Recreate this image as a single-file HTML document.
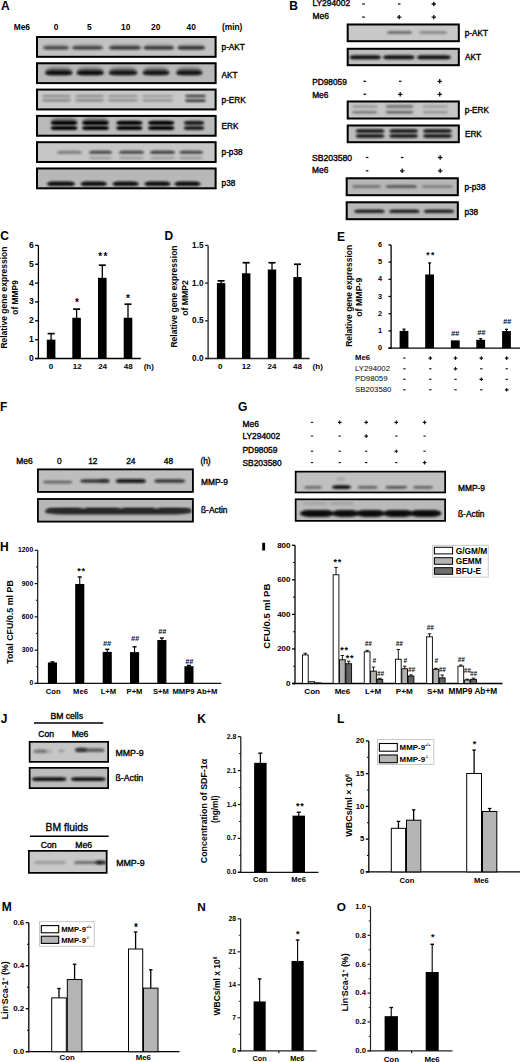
<!DOCTYPE html><html><head><meta charset="utf-8"><style>html,body{margin:0;padding:0;background:#fff;}svg{display:block;}</style></head><body>
<svg width="520" height="1062" viewBox="0 0 520 1062" font-family='"Liberation Sans", sans-serif'>
<defs>
<filter id="bl0" x="-50%" y="-100%" width="200%" height="300%"><feGaussianBlur stdDeviation="0.5"/></filter>
<filter id="bl1" x="-50%" y="-100%" width="200%" height="300%"><feGaussianBlur stdDeviation="0.9"/></filter>
<filter id="bl2" x="-50%" y="-100%" width="200%" height="300%"><feGaussianBlur stdDeviation="1.3"/></filter>
<filter id="bl3" x="-50%" y="-100%" width="200%" height="300%"><feGaussianBlur stdDeviation="1.8"/></filter>
<filter id="bl4" x="-50%" y="-100%" width="200%" height="300%"><feGaussianBlur stdDeviation="2.5"/></filter>
</defs>
<rect width="520" height="1062" fill="#fff"/>
<text x="1.0" y="10.0" font-size="12" font-weight="bold" text-anchor="start" fill="#000">A</text>
<text x="13.7" y="30" font-size="8.4" font-weight="bold" text-anchor="start" fill="#000">Me6</text>
<text x="56" y="30" font-size="8.4" font-weight="bold" text-anchor="middle" fill="#000">0</text>
<text x="89.3" y="30" font-size="8.4" font-weight="bold" text-anchor="middle" fill="#000">5</text>
<text x="125.7" y="30" font-size="8.4" font-weight="bold" text-anchor="middle" fill="#000">10</text>
<text x="155.7" y="30" font-size="8.4" font-weight="bold" text-anchor="middle" fill="#000">20</text>
<text x="191.2" y="30" font-size="8.4" font-weight="bold" text-anchor="middle" fill="#000">40</text>
<text x="221.9" y="30" font-size="8.4" font-weight="bold" text-anchor="start" fill="#000">(min)</text>
<clipPath id="c18"><rect x="36" y="36" width="180.6" height="21.799999999999997"/></clipPath>
<g clip-path="url(#c18)">
<rect x="36.00" y="36.00" width="180.60" height="21.80" fill="#c2c2c2"/>
<rect x="43.65" y="44.22" width="24.70" height="4.16" rx="5.20" ry="2.08" fill="#1a1a1a" fill-opacity="0.175" filter="url(#bl3)"/>
<rect x="72.78" y="44.22" width="29.45" height="4.16" rx="5.20" ry="2.08" fill="#1a1a1a" fill-opacity="0.1875" filter="url(#bl3)"/>
<rect x="109.80" y="44.22" width="30.40" height="4.16" rx="5.20" ry="2.08" fill="#1a1a1a" fill-opacity="0.2" filter="url(#bl3)"/>
<rect x="144.26" y="44.22" width="28.97" height="4.16" rx="5.20" ry="2.08" fill="#1a1a1a" fill-opacity="0.2125" filter="url(#bl3)"/>
<rect x="178.19" y="44.22" width="26.12" height="4.16" rx="5.20" ry="2.08" fill="#1a1a1a" fill-opacity="0.225" filter="url(#bl3)"/>
<rect x="43.00" y="46.20" width="26.00" height="3.20" rx="4.00" ry="1.60" fill="#1a1a1a" fill-opacity="0.7" filter="url(#bl1)"/>
<rect x="72.00" y="46.20" width="31.00" height="3.20" rx="4.00" ry="1.60" fill="#1a1a1a" fill-opacity="0.75" filter="url(#bl1)"/>
<rect x="109.00" y="46.20" width="32.00" height="3.20" rx="4.00" ry="1.60" fill="#1a1a1a" fill-opacity="0.8" filter="url(#bl1)"/>
<rect x="143.50" y="46.20" width="30.50" height="3.20" rx="4.00" ry="1.60" fill="#1a1a1a" fill-opacity="0.85" filter="url(#bl1)"/>
<rect x="177.50" y="46.20" width="27.50" height="3.20" rx="4.00" ry="1.60" fill="#1a1a1a" fill-opacity="0.9" filter="url(#bl1)"/>
</g>
<rect x="37.00" y="37.00" width="178.60" height="19.80" fill="none" stroke="#000" stroke-width="2"/>
<text x="221.6" y="50.4" font-size="8.2" font-weight="normal" text-anchor="start" fill="#000" stroke="#000" stroke-width="0.35">p-AKT</text>
<clipPath id="c34"><rect x="36" y="62.3" width="180.6" height="21.799999999999997"/></clipPath>
<g clip-path="url(#c34)">
<rect x="36.00" y="62.30" width="180.60" height="21.80" fill="#b8b8b8"/>
<rect x="45.69" y="66.95" width="26.12" height="6.90" rx="8.62" ry="3.45" fill="#0a0a0a" fill-opacity="0.35" filter="url(#bl3)"/>
<rect x="77.19" y="66.95" width="26.12" height="6.90" rx="8.62" ry="3.45" fill="#0a0a0a" fill-opacity="0.35" filter="url(#bl3)"/>
<rect x="109.42" y="66.95" width="27.36" height="6.90" rx="8.62" ry="3.45" fill="#0a0a0a" fill-opacity="0.33249999999999996" filter="url(#bl3)"/>
<rect x="143.18" y="66.95" width="25.65" height="6.90" rx="8.62" ry="3.45" fill="#0a0a0a" fill-opacity="0.33249999999999996" filter="url(#bl3)"/>
<rect x="176.66" y="66.95" width="25.17" height="6.90" rx="8.62" ry="3.45" fill="#0a0a0a" fill-opacity="0.33249999999999996" filter="url(#bl3)"/>
<rect x="45.00" y="70.60" width="27.50" height="4.60" rx="5.75" ry="2.30" fill="#0a0a0a" fill-opacity="1" filter="url(#bl1)"/>
<rect x="76.50" y="70.60" width="27.50" height="4.60" rx="5.75" ry="2.30" fill="#0a0a0a" fill-opacity="1" filter="url(#bl1)"/>
<rect x="108.70" y="70.60" width="28.80" height="4.60" rx="5.75" ry="2.30" fill="#0a0a0a" fill-opacity="0.95" filter="url(#bl1)"/>
<rect x="142.50" y="70.60" width="27.00" height="4.60" rx="5.75" ry="2.30" fill="#0a0a0a" fill-opacity="0.95" filter="url(#bl1)"/>
<rect x="176.00" y="70.60" width="26.50" height="4.60" rx="5.75" ry="2.30" fill="#0a0a0a" fill-opacity="0.95" filter="url(#bl1)"/>
</g>
<rect x="37.00" y="63.30" width="178.60" height="19.80" fill="none" stroke="#000" stroke-width="2"/>
<text x="221.6" y="77.7" font-size="8.2" font-weight="normal" text-anchor="start" fill="#000" stroke="#000" stroke-width="0.35">AKT</text>
<clipPath id="c50"><rect x="36" y="88.6" width="180.6" height="21.799999999999997"/></clipPath>
<g clip-path="url(#c50)">
<rect x="36.00" y="88.60" width="180.60" height="21.80" fill="#c8c8c8"/>
<rect x="42.00" y="94.90" width="29.00" height="2.20" rx="3.62" ry="1.10" fill="#333" fill-opacity="0.45" filter="url(#bl1)"/>
<rect x="75.00" y="94.90" width="29.00" height="2.20" rx="3.62" ry="1.10" fill="#333" fill-opacity="0.45" filter="url(#bl1)"/>
<rect x="108.00" y="94.90" width="30.00" height="2.20" rx="3.75" ry="1.10" fill="#333" fill-opacity="0.4" filter="url(#bl1)"/>
<rect x="142.00" y="94.90" width="31.00" height="2.20" rx="3.88" ry="1.10" fill="#333" fill-opacity="0.35" filter="url(#bl1)"/>
<rect x="42.00" y="99.20" width="29.00" height="2.20" rx="3.62" ry="1.10" fill="#333" fill-opacity="0.5" filter="url(#bl1)"/>
<rect x="75.00" y="99.20" width="29.00" height="2.20" rx="3.62" ry="1.10" fill="#333" fill-opacity="0.5" filter="url(#bl1)"/>
<rect x="108.00" y="99.20" width="30.00" height="2.20" rx="3.75" ry="1.10" fill="#333" fill-opacity="0.45" filter="url(#bl1)"/>
<rect x="142.00" y="99.20" width="31.00" height="2.20" rx="3.88" ry="1.10" fill="#333" fill-opacity="0.4" filter="url(#bl1)"/>
<rect x="185.00" y="94.90" width="21.00" height="2.20" rx="2.75" ry="1.10" fill="#111" fill-opacity="0.9" filter="url(#bl1)"/>
<rect x="185.00" y="99.40" width="21.00" height="2.40" rx="3.00" ry="1.20" fill="#111" fill-opacity="0.95" filter="url(#bl1)"/>
</g>
<rect x="37.00" y="89.60" width="178.60" height="19.80" fill="none" stroke="#000" stroke-width="2"/>
<text x="221.6" y="102.8" font-size="8.2" font-weight="normal" text-anchor="start" fill="#000" stroke="#000" stroke-width="0.35">p-ERK</text>
<clipPath id="c66"><rect x="36" y="114.9" width="180.6" height="21.80000000000001"/></clipPath>
<g clip-path="url(#c66)">
<rect x="36.00" y="114.90" width="180.60" height="21.80" fill="#bababa"/>
<rect x="51.27" y="116.82" width="25.55" height="6.16" rx="7.70" ry="3.08" fill="#050505" fill-opacity="0.3" filter="url(#bl3)"/>
<rect x="82.67" y="116.82" width="25.65" height="6.16" rx="7.70" ry="3.08" fill="#050505" fill-opacity="0.3" filter="url(#bl3)"/>
<rect x="50.60" y="120.70" width="26.90" height="4.40" rx="5.50" ry="2.20" fill="#050505" fill-opacity="1" filter="url(#bl1)"/>
<rect x="82.00" y="120.70" width="27.00" height="4.40" rx="5.50" ry="2.20" fill="#050505" fill-opacity="1" filter="url(#bl1)"/>
<rect x="116.20" y="120.70" width="26.30" height="4.40" rx="5.50" ry="2.20" fill="#050505" fill-opacity="1" filter="url(#bl1)"/>
<rect x="148.00" y="120.70" width="26.40" height="4.40" rx="5.50" ry="2.20" fill="#050505" fill-opacity="1" filter="url(#bl1)"/>
<rect x="183.70" y="120.70" width="20.70" height="4.40" rx="5.50" ry="2.20" fill="#050505" fill-opacity="0.85" filter="url(#bl1)"/>
<rect x="50.60" y="126.00" width="26.90" height="4.00" rx="5.00" ry="2.00" fill="#050505" fill-opacity="1" filter="url(#bl1)"/>
<rect x="82.00" y="126.00" width="27.00" height="4.00" rx="5.00" ry="2.00" fill="#050505" fill-opacity="1" filter="url(#bl1)"/>
<rect x="116.20" y="126.00" width="26.30" height="4.00" rx="5.00" ry="2.00" fill="#050505" fill-opacity="1" filter="url(#bl1)"/>
<rect x="148.00" y="126.00" width="26.40" height="4.00" rx="5.00" ry="2.00" fill="#050505" fill-opacity="1" filter="url(#bl1)"/>
<rect x="183.70" y="126.00" width="20.70" height="4.00" rx="5.00" ry="2.00" fill="#050505" fill-opacity="0.85" filter="url(#bl1)"/>
</g>
<rect x="37.00" y="115.90" width="178.60" height="19.80" fill="none" stroke="#000" stroke-width="2"/>
<text x="221.6" y="129.0" font-size="8.2" font-weight="normal" text-anchor="start" fill="#000" stroke="#000" stroke-width="0.35">ERK</text>
<clipPath id="c84"><rect x="36" y="141.2" width="180.6" height="21.80000000000001"/></clipPath>
<g clip-path="url(#c84)">
<rect x="36.00" y="141.20" width="180.60" height="21.80" fill="#c6c6c6"/>
<rect x="57.00" y="150.80" width="25.00" height="3.00" rx="3.75" ry="1.50" fill="#222" fill-opacity="0.45" filter="url(#bl1)"/>
<rect x="89.00" y="150.80" width="23.00" height="3.00" rx="3.75" ry="1.50" fill="#222" fill-opacity="0.8" filter="url(#bl1)"/>
<rect x="119.00" y="150.80" width="25.00" height="3.00" rx="3.75" ry="1.50" fill="#222" fill-opacity="0.8" filter="url(#bl1)"/>
<rect x="150.00" y="150.80" width="25.00" height="3.00" rx="3.75" ry="1.50" fill="#222" fill-opacity="0.85" filter="url(#bl1)"/>
<rect x="179.50" y="150.80" width="23.50" height="3.00" rx="3.75" ry="1.50" fill="#222" fill-opacity="0.8" filter="url(#bl1)"/>
<rect x="89.00" y="156.90" width="23.00" height="2.20" rx="2.88" ry="1.10" fill="#444" fill-opacity="0.35" filter="url(#bl1)"/>
<rect x="119.00" y="156.90" width="25.00" height="2.20" rx="3.12" ry="1.10" fill="#444" fill-opacity="0.35" filter="url(#bl1)"/>
<rect x="150.00" y="156.90" width="25.00" height="2.20" rx="3.12" ry="1.10" fill="#444" fill-opacity="0.35" filter="url(#bl1)"/>
<rect x="179.50" y="156.90" width="23.50" height="2.20" rx="2.94" ry="1.10" fill="#444" fill-opacity="0.4" filter="url(#bl1)"/>
</g>
<rect x="37.00" y="142.20" width="178.60" height="19.80" fill="none" stroke="#000" stroke-width="2"/>
<text x="221.6" y="154.6" font-size="8.2" font-weight="normal" text-anchor="start" fill="#000" stroke="#000" stroke-width="0.35">p-p38</text>
<clipPath id="c99"><rect x="36" y="167.5" width="180.6" height="21.80000000000001"/></clipPath>
<g clip-path="url(#c99)">
<rect x="36.00" y="167.50" width="180.60" height="21.80" fill="#b8b8b8"/>
<rect x="46.90" y="181.50" width="28.10" height="4.60" rx="5.75" ry="2.30" fill="#0a0a0a" fill-opacity="1" filter="url(#bl1)"/>
<rect x="80.60" y="181.50" width="26.30" height="4.60" rx="5.75" ry="2.30" fill="#0a0a0a" fill-opacity="1" filter="url(#bl1)"/>
<rect x="112.50" y="181.50" width="26.20" height="4.60" rx="5.75" ry="2.30" fill="#0a0a0a" fill-opacity="1" filter="url(#bl1)"/>
<rect x="144.40" y="181.50" width="26.20" height="4.60" rx="5.75" ry="2.30" fill="#0a0a0a" fill-opacity="1" filter="url(#bl1)"/>
<rect x="174.40" y="181.50" width="26.20" height="4.60" rx="5.75" ry="2.30" fill="#0a0a0a" fill-opacity="1" filter="url(#bl1)"/>
</g>
<rect x="37.00" y="168.50" width="178.60" height="19.80" fill="none" stroke="#000" stroke-width="2"/>
<text x="221.6" y="186.2" font-size="8.2" font-weight="normal" text-anchor="start" fill="#000" stroke="#000" stroke-width="0.35">p38</text>
<text x="289.3" y="10.2" font-size="12" font-weight="bold" text-anchor="start" fill="#000">B</text>
<text x="312.5" y="5.5" font-size="8.4" font-weight="normal" text-anchor="start" fill="#000" stroke="#000" stroke-width="0.35">LY294002</text>
<text x="312.5" y="18.75" font-size="8.4" font-weight="normal" text-anchor="start" fill="#000" stroke="#000" stroke-width="0.35">Me6</text>
<path d="M362.20 4.00H364.80" stroke="#111" stroke-width="1.3" fill="none"/>
<path d="M397.90 4.00H400.50" stroke="#111" stroke-width="1.3" fill="none"/>
<path d="M431.60 4.00H436.00M433.80 1.80V6.20" stroke="#111" stroke-width="1.3" fill="none"/>
<path d="M362.20 17.10H364.80" stroke="#111" stroke-width="1.3" fill="none"/>
<path d="M397.00 17.10H401.40M399.20 14.90V19.30" stroke="#111" stroke-width="1.3" fill="none"/>
<path d="M431.60 17.10H436.00M433.80 14.90V19.30" stroke="#111" stroke-width="1.3" fill="none"/>
<clipPath id="c119"><rect x="346.7" y="23.5" width="113.10000000000002" height="18.700000000000003"/></clipPath>
<g clip-path="url(#c119)">
<rect x="346.70" y="23.50" width="113.10" height="18.70" fill="#c8c8c8"/>
<rect x="387.00" y="31.20" width="25.00" height="2.60" rx="3.25" ry="1.30" fill="#333" fill-opacity="0.7" filter="url(#bl1)"/>
<rect x="419.00" y="31.30" width="28.00" height="2.40" rx="3.50" ry="1.20" fill="#444" fill-opacity="0.55" filter="url(#bl1)"/>
</g>
<rect x="347.70" y="24.50" width="111.10" height="16.70" fill="none" stroke="#000" stroke-width="2"/>
<clipPath id="c126"><rect x="346.7" y="47.8" width="113.10000000000002" height="18.400000000000006"/></clipPath>
<g clip-path="url(#c126)">
<rect x="346.70" y="47.80" width="113.10" height="18.40" fill="#bdbdbd"/>
<rect x="349.60" y="55.30" width="31.30" height="4.00" rx="5.00" ry="2.00" fill="#111" fill-opacity="1" filter="url(#bl1)"/>
<rect x="383.30" y="55.30" width="31.20" height="4.00" rx="5.00" ry="2.00" fill="#111" fill-opacity="1" filter="url(#bl1)"/>
<rect x="417.00" y="55.30" width="33.60" height="4.00" rx="5.00" ry="2.00" fill="#111" fill-opacity="1" filter="url(#bl1)"/>
</g>
<rect x="347.70" y="48.80" width="111.10" height="16.40" fill="none" stroke="#000" stroke-width="2"/>
<text x="464.8" y="35.8" font-size="8.2" font-weight="normal" text-anchor="start" fill="#000" stroke="#000" stroke-width="0.35">p-AKT</text>
<text x="465" y="60.0" font-size="8.2" font-weight="normal" text-anchor="start" fill="#000" stroke="#000" stroke-width="0.35">AKT</text>
<text x="312.2" y="84.8" font-size="8.3" font-weight="normal" text-anchor="start" fill="#000" stroke="#000" stroke-width="0.35">PD98059</text>
<text x="312.2" y="97.5" font-size="8.3" font-weight="normal" text-anchor="start" fill="#000" stroke="#000" stroke-width="0.35">Me6</text>
<path d="M363.50 81.30H366.10" stroke="#111" stroke-width="1.3" fill="none"/>
<path d="M398.90 81.30H401.50" stroke="#111" stroke-width="1.3" fill="none"/>
<path d="M437.50 81.30H441.90M439.70 79.10V83.50" stroke="#111" stroke-width="1.3" fill="none"/>
<path d="M363.50 94.30H366.10" stroke="#111" stroke-width="1.3" fill="none"/>
<path d="M398.00 94.30H402.40M400.20 92.10V96.50" stroke="#111" stroke-width="1.3" fill="none"/>
<path d="M437.50 94.30H441.90M439.70 92.10V96.50" stroke="#111" stroke-width="1.3" fill="none"/>
<clipPath id="c144"><rect x="346.7" y="100.5" width="113.10000000000002" height="19.0"/></clipPath>
<g clip-path="url(#c144)">
<rect x="346.70" y="100.50" width="113.10" height="19.00" fill="#c6c6c6"/>
<rect x="352.00" y="105.20" width="25.30" height="2.60" rx="3.25" ry="1.30" fill="#333" fill-opacity="0.35" filter="url(#bl1)"/>
<rect x="385.70" y="105.20" width="27.60" height="2.60" rx="3.45" ry="1.30" fill="#333" fill-opacity="0.65" filter="url(#bl1)"/>
<rect x="423.00" y="105.20" width="25.00" height="2.60" rx="3.25" ry="1.30" fill="#333" fill-opacity="0.28" filter="url(#bl1)"/>
<rect x="352.00" y="111.00" width="25.30" height="2.60" rx="3.25" ry="1.30" fill="#333" fill-opacity="0.55" filter="url(#bl1)"/>
<rect x="385.70" y="111.00" width="27.60" height="2.60" rx="3.45" ry="1.30" fill="#333" fill-opacity="0.7" filter="url(#bl1)"/>
<rect x="423.00" y="111.00" width="25.00" height="2.60" rx="3.25" ry="1.30" fill="#333" fill-opacity="0.35" filter="url(#bl1)"/>
</g>
<rect x="347.70" y="101.50" width="111.10" height="17.00" fill="none" stroke="#000" stroke-width="2"/>
<clipPath id="c155"><rect x="346.7" y="124.5" width="113.10000000000002" height="18.69999999999999"/></clipPath>
<g clip-path="url(#c155)">
<rect x="346.70" y="124.50" width="113.10" height="18.70" fill="#bdbdbd"/>
<rect x="355.60" y="129.20" width="28.90" height="3.60" rx="4.50" ry="1.80" fill="#0a0a0a" fill-opacity="1" filter="url(#bl1)"/>
<rect x="389.30" y="129.20" width="28.70" height="3.60" rx="4.50" ry="1.80" fill="#0a0a0a" fill-opacity="1" filter="url(#bl1)"/>
<rect x="423.00" y="129.20" width="28.80" height="3.60" rx="4.50" ry="1.80" fill="#0a0a0a" fill-opacity="1" filter="url(#bl1)"/>
<rect x="355.60" y="134.30" width="28.90" height="3.40" rx="4.25" ry="1.70" fill="#0a0a0a" fill-opacity="1" filter="url(#bl1)"/>
<rect x="389.30" y="134.30" width="28.70" height="3.40" rx="4.25" ry="1.70" fill="#0a0a0a" fill-opacity="1" filter="url(#bl1)"/>
<rect x="423.00" y="134.30" width="28.80" height="3.40" rx="4.25" ry="1.70" fill="#0a0a0a" fill-opacity="1" filter="url(#bl1)"/>
</g>
<rect x="347.70" y="125.50" width="111.10" height="16.70" fill="none" stroke="#000" stroke-width="2"/>
<text x="464.8" y="112.9" font-size="8.2" font-weight="normal" text-anchor="start" fill="#000" stroke="#000" stroke-width="0.35">p-ERK</text>
<text x="465" y="136.7" font-size="8.2" font-weight="normal" text-anchor="start" fill="#000" stroke="#000" stroke-width="0.35">ERK</text>
<text x="312" y="161" font-size="8.6" font-weight="normal" text-anchor="start" fill="#000" stroke="#000" stroke-width="0.35">SB203580</text>
<text x="312" y="173" font-size="8.4" font-weight="normal" text-anchor="start" fill="#000" stroke="#000" stroke-width="0.35">Me6</text>
<path d="M365.80 157.50H368.40" stroke="#111" stroke-width="1.3" fill="none"/>
<path d="M400.90 157.50H403.50" stroke="#111" stroke-width="1.3" fill="none"/>
<path d="M438.00 157.50H442.40M440.20 155.30V159.70" stroke="#111" stroke-width="1.3" fill="none"/>
<path d="M365.80 170.80H368.40" stroke="#111" stroke-width="1.3" fill="none"/>
<path d="M400.00 170.80H404.40M402.20 168.60V173.00" stroke="#111" stroke-width="1.3" fill="none"/>
<path d="M438.00 170.80H442.40M440.20 168.60V173.00" stroke="#111" stroke-width="1.3" fill="none"/>
<clipPath id="c176"><rect x="345.7" y="177.3" width="113.10000000000002" height="18.899999999999977"/></clipPath>
<g clip-path="url(#c176)">
<rect x="345.70" y="177.30" width="113.10" height="18.90" fill="#b8b8b8"/>
<rect x="352.00" y="184.90" width="28.90" height="3.00" rx="3.75" ry="1.50" fill="#333" fill-opacity="0.5" filter="url(#bl1)"/>
<rect x="385.70" y="184.90" width="31.30" height="3.00" rx="3.91" ry="1.50" fill="#333" fill-opacity="0.7" filter="url(#bl1)"/>
<rect x="421.70" y="184.90" width="31.30" height="3.00" rx="3.91" ry="1.50" fill="#333" fill-opacity="0.4" filter="url(#bl1)"/>
</g>
<rect x="346.70" y="178.30" width="111.10" height="16.90" fill="none" stroke="#000" stroke-width="2"/>
<clipPath id="c184"><rect x="345.7" y="201.3" width="113.10000000000002" height="18.899999999999977"/></clipPath>
<g clip-path="url(#c184)">
<rect x="345.70" y="201.30" width="113.10" height="18.90" fill="#b8b8b8"/>
<rect x="354.40" y="209.70" width="30.10" height="3.00" rx="3.76" ry="1.50" fill="#0a0a0a" fill-opacity="1" filter="url(#bl1)"/>
<rect x="389.30" y="209.70" width="30.00" height="3.00" rx="3.75" ry="1.50" fill="#0a0a0a" fill-opacity="1" filter="url(#bl1)"/>
<rect x="424.00" y="209.70" width="30.00" height="3.00" rx="3.75" ry="1.50" fill="#0a0a0a" fill-opacity="1" filter="url(#bl1)"/>
</g>
<rect x="346.70" y="202.30" width="111.10" height="16.90" fill="none" stroke="#000" stroke-width="2"/>
<text x="464.5" y="189.9" font-size="8.2" font-weight="normal" text-anchor="start" fill="#000" stroke="#000" stroke-width="0.35">p-p38</text>
<text x="464.5" y="215" font-size="8.2" font-weight="normal" text-anchor="start" fill="#000" stroke="#000" stroke-width="0.35">p38</text>
<text x="0.2" y="240.4" font-size="12" font-weight="bold" text-anchor="start" fill="#000">C</text>
<line x1="38.40" y1="245.40" x2="38.40" y2="359.15" stroke="#000" stroke-width="1.3"/>
<line x1="35.10" y1="358.50" x2="140.80" y2="358.50" stroke="#000" stroke-width="1.3"/>
<line x1="35.10" y1="358.50" x2="38.40" y2="358.50" stroke="#000" stroke-width="1.3"/>
<text x="33.7" y="360.9" font-size="8.6" font-weight="bold" text-anchor="end" fill="#000">0</text>
<line x1="35.10" y1="339.65" x2="38.40" y2="339.65" stroke="#000" stroke-width="1.3"/>
<text x="33.7" y="342.04999999999995" font-size="8.6" font-weight="bold" text-anchor="end" fill="#000">1</text>
<line x1="35.10" y1="320.80" x2="38.40" y2="320.80" stroke="#000" stroke-width="1.3"/>
<text x="33.7" y="323.2" font-size="8.6" font-weight="bold" text-anchor="end" fill="#000">2</text>
<line x1="35.10" y1="301.95" x2="38.40" y2="301.95" stroke="#000" stroke-width="1.3"/>
<text x="33.7" y="304.34999999999997" font-size="8.6" font-weight="bold" text-anchor="end" fill="#000">3</text>
<line x1="35.10" y1="283.10" x2="38.40" y2="283.10" stroke="#000" stroke-width="1.3"/>
<text x="33.7" y="285.5" font-size="8.6" font-weight="bold" text-anchor="end" fill="#000">4</text>
<line x1="35.10" y1="264.25" x2="38.40" y2="264.25" stroke="#000" stroke-width="1.3"/>
<text x="33.7" y="266.65" font-size="8.6" font-weight="bold" text-anchor="end" fill="#000">5</text>
<line x1="35.10" y1="245.40" x2="38.40" y2="245.40" stroke="#000" stroke-width="1.3"/>
<text x="33.7" y="247.79999999999998" font-size="8.6" font-weight="bold" text-anchor="end" fill="#000">6</text>
<line x1="51.10" y1="333.62" x2="51.10" y2="340.65" stroke="#000" stroke-width="1.3"/>
<line x1="47.60" y1="333.62" x2="54.60" y2="333.62" stroke="#000" stroke-width="1.7"/>
<rect x="46.80" y="339.65" width="8.60" height="18.85" fill="#000"/>
<line x1="76.60" y1="309.11" x2="76.60" y2="318.78" stroke="#000" stroke-width="1.3"/>
<line x1="73.10" y1="309.11" x2="80.10" y2="309.11" stroke="#000" stroke-width="1.7"/>
<rect x="72.30" y="317.78" width="8.60" height="40.72" fill="#000"/>
<line x1="102.30" y1="265.19" x2="102.30" y2="278.82" stroke="#000" stroke-width="1.3"/>
<line x1="98.80" y1="265.19" x2="105.80" y2="265.19" stroke="#000" stroke-width="1.7"/>
<rect x="98.00" y="277.82" width="8.60" height="80.68" fill="#000"/>
<line x1="128.00" y1="304.21" x2="128.00" y2="318.78" stroke="#000" stroke-width="1.3"/>
<line x1="124.50" y1="304.21" x2="131.50" y2="304.21" stroke="#000" stroke-width="1.7"/>
<rect x="123.70" y="317.78" width="8.60" height="40.72" fill="#000"/>
<text x="75.0" y="305.9" font-size="10" font-weight="bold" text-anchor="start" fill="#000">*</text>
<text x="98.2" y="260.2" font-size="10" font-weight="bold" text-anchor="start" fill="#000">*</text>
<text x="103.4" y="260.2" font-size="10" font-weight="bold" text-anchor="start" fill="#000">*</text>
<text x="126.1" y="302.3" font-size="10" font-weight="bold" text-anchor="start" fill="#000">*</text>
<text x="51.1" y="368.8" font-size="8" font-weight="bold" text-anchor="middle" fill="#000">0</text>
<text x="77.3" y="368.8" font-size="8" font-weight="bold" text-anchor="middle" fill="#000">12</text>
<text x="102.6" y="368.8" font-size="8" font-weight="bold" text-anchor="middle" fill="#000">24</text>
<text x="128.2" y="368.8" font-size="8" font-weight="bold" text-anchor="middle" fill="#000">48</text>
<text x="143.7" y="368.8" font-size="8" font-weight="bold" text-anchor="start" fill="#000">(h)</text>
<text x="7.2" y="297.6" font-size="8.5" font-weight="bold" text-anchor="middle" fill="#000" transform="rotate(-90 7.2 297.6)">Relative gene expression</text>
<text x="18.4" y="297.4" font-size="8.4" font-weight="bold" text-anchor="middle" fill="#000" transform="rotate(-90 18.4 297.4)">of MMP9</text>
<text x="164.5" y="239.6" font-size="12" font-weight="bold" text-anchor="start" fill="#000">D</text>
<line x1="208.10" y1="245.30" x2="208.10" y2="359.15" stroke="#222" stroke-width="1.3"/>
<line x1="205.10" y1="358.50" x2="309.70" y2="358.50" stroke="#222" stroke-width="1.3"/>
<line x1="205.10" y1="358.50" x2="208.10" y2="358.50" stroke="#222" stroke-width="1.3"/>
<text x="203.5" y="360.9" font-size="8.2" font-weight="bold" text-anchor="end" fill="#000">0.0</text>
<line x1="205.10" y1="320.80" x2="208.10" y2="320.80" stroke="#222" stroke-width="1.3"/>
<text x="203.5" y="323.2" font-size="8.2" font-weight="bold" text-anchor="end" fill="#000">0.5</text>
<line x1="205.10" y1="283.10" x2="208.10" y2="283.10" stroke="#222" stroke-width="1.3"/>
<text x="203.5" y="285.5" font-size="8.2" font-weight="bold" text-anchor="end" fill="#000">1.0</text>
<line x1="205.10" y1="245.40" x2="208.10" y2="245.40" stroke="#222" stroke-width="1.3"/>
<text x="203.5" y="247.79999999999998" font-size="8.2" font-weight="bold" text-anchor="end" fill="#000">1.5</text>
<line x1="221.10" y1="280.84" x2="221.10" y2="284.10" stroke="#000" stroke-width="1.3"/>
<line x1="217.60" y1="280.84" x2="224.60" y2="280.84" stroke="#000" stroke-width="1.7"/>
<rect x="216.90" y="283.10" width="8.40" height="75.40" fill="#000"/>
<line x1="246.20" y1="262.74" x2="246.20" y2="274.30" stroke="#000" stroke-width="1.3"/>
<line x1="242.70" y1="262.74" x2="249.70" y2="262.74" stroke="#000" stroke-width="1.7"/>
<rect x="242.00" y="273.30" width="8.40" height="85.20" fill="#000"/>
<line x1="272.00" y1="262.74" x2="272.00" y2="270.53" stroke="#000" stroke-width="1.3"/>
<line x1="268.50" y1="262.74" x2="275.50" y2="262.74" stroke="#000" stroke-width="1.7"/>
<rect x="267.80" y="269.53" width="8.40" height="88.97" fill="#000"/>
<line x1="297.50" y1="264.25" x2="297.50" y2="278.07" stroke="#000" stroke-width="1.3"/>
<line x1="294.00" y1="264.25" x2="301.00" y2="264.25" stroke="#000" stroke-width="1.7"/>
<rect x="293.30" y="277.07" width="8.40" height="81.43" fill="#000"/>
<text x="220.3" y="368.6" font-size="8" font-weight="bold" text-anchor="middle" fill="#000">0</text>
<text x="246.3" y="368.6" font-size="8" font-weight="bold" text-anchor="middle" fill="#000">12</text>
<text x="272" y="368.6" font-size="8" font-weight="bold" text-anchor="middle" fill="#000">24</text>
<text x="297.5" y="368.6" font-size="8" font-weight="bold" text-anchor="middle" fill="#000">48</text>
<text x="312.6" y="368.6" font-size="8" font-weight="bold" text-anchor="start" fill="#000">(h)</text>
<text x="176.9" y="296.5" font-size="8.5" font-weight="bold" text-anchor="middle" fill="#000" transform="rotate(-90 176.9 296.5)">Relative gene expression</text>
<text x="187.6" y="298.0" font-size="8.7" font-weight="bold" text-anchor="middle" fill="#000" transform="rotate(-90 187.6 298.0)">of MMP2</text>
<text x="337.0" y="240.5" font-size="12" font-weight="bold" text-anchor="start" fill="#000">E</text>
<line x1="391.10" y1="244.90" x2="391.10" y2="348.75" stroke="#000" stroke-width="1.3"/>
<line x1="388.50" y1="348.10" x2="520.00" y2="348.10" stroke="#000" stroke-width="1.3"/>
<line x1="388.50" y1="348.10" x2="391.10" y2="348.10" stroke="#000" stroke-width="1.3"/>
<text x="382.1" y="350.1" font-size="7.3" font-weight="bold" text-anchor="end" fill="#000">0</text>
<line x1="388.50" y1="330.90" x2="391.10" y2="330.90" stroke="#000" stroke-width="1.3"/>
<text x="382.1" y="332.90000000000003" font-size="7.3" font-weight="bold" text-anchor="end" fill="#000">1</text>
<line x1="388.50" y1="313.70" x2="391.10" y2="313.70" stroke="#000" stroke-width="1.3"/>
<text x="382.1" y="315.70000000000005" font-size="7.3" font-weight="bold" text-anchor="end" fill="#000">2</text>
<line x1="388.50" y1="296.50" x2="391.10" y2="296.50" stroke="#000" stroke-width="1.3"/>
<text x="382.1" y="298.5" font-size="7.3" font-weight="bold" text-anchor="end" fill="#000">3</text>
<line x1="388.50" y1="279.30" x2="391.10" y2="279.30" stroke="#000" stroke-width="1.3"/>
<text x="382.1" y="281.3" font-size="7.3" font-weight="bold" text-anchor="end" fill="#000">4</text>
<line x1="388.50" y1="262.10" x2="391.10" y2="262.10" stroke="#000" stroke-width="1.3"/>
<text x="382.1" y="264.1" font-size="7.3" font-weight="bold" text-anchor="end" fill="#000">5</text>
<line x1="388.50" y1="244.90" x2="391.10" y2="244.90" stroke="#000" stroke-width="1.3"/>
<text x="382.1" y="246.90000000000003" font-size="7.3" font-weight="bold" text-anchor="end" fill="#000">6</text>
<line x1="404.00" y1="329.18" x2="404.00" y2="331.90" stroke="#000" stroke-width="1.3"/>
<line x1="402.50" y1="329.18" x2="405.50" y2="329.18" stroke="#000" stroke-width="1.3"/>
<rect x="399.60" y="330.90" width="8.80" height="17.20" fill="#000"/>
<line x1="429.60" y1="262.96" x2="429.60" y2="275.48" stroke="#000" stroke-width="1.3"/>
<line x1="428.10" y1="262.96" x2="431.10" y2="262.96" stroke="#000" stroke-width="1.3"/>
<rect x="425.20" y="274.48" width="8.80" height="73.62" fill="#000"/>
<rect x="450.90" y="340.36" width="8.80" height="7.74" fill="#000"/>
<line x1="480.70" y1="338.64" x2="480.70" y2="340.84" stroke="#000" stroke-width="1.3"/>
<line x1="479.20" y1="338.64" x2="482.20" y2="338.64" stroke="#000" stroke-width="1.3"/>
<rect x="476.30" y="339.84" width="8.80" height="8.26" fill="#000"/>
<line x1="506.50" y1="329.35" x2="506.50" y2="332.07" stroke="#000" stroke-width="1.3"/>
<line x1="505.00" y1="329.35" x2="508.00" y2="329.35" stroke="#000" stroke-width="1.3"/>
<rect x="502.10" y="331.07" width="8.80" height="17.03" fill="#000"/>
<text x="426.28" y="258.33" font-size="8.5" font-weight="bold" text-anchor="start" fill="#000">*</text>
<text x="430.88" y="258.33" font-size="8.5" font-weight="bold" text-anchor="start" fill="#000">*</text>
<text x="455.1" y="335.85" font-size="7.4" font-weight="bold" text-anchor="middle" fill="#000" font-style="italic">##</text>
<text x="481.3" y="334.75" font-size="7.4" font-weight="bold" text-anchor="middle" fill="#000" font-style="italic">##</text>
<text x="507.1" y="323.65" font-size="7.4" font-weight="bold" text-anchor="middle" fill="#000" font-style="italic">##</text>
<text x="355" y="360.1" font-size="7.7" font-weight="bold" text-anchor="start" fill="#000">Me6</text>
<path d="M403.20 358.10H405.60" stroke="#111" stroke-width="1.15" fill="none"/>
<path d="M428.50 358.10H432.10M430.30 356.30V359.90" stroke="#111" stroke-width="1.15" fill="none"/>
<path d="M453.70 358.10H457.30M455.50 356.30V359.90" stroke="#111" stroke-width="1.15" fill="none"/>
<path d="M479.50 358.10H483.10M481.30 356.30V359.90" stroke="#111" stroke-width="1.15" fill="none"/>
<path d="M504.90 358.10H508.50M506.70 356.30V359.90" stroke="#111" stroke-width="1.15" fill="none"/>
<text x="355" y="370.8" font-size="7.8" font-weight="normal" text-anchor="start" fill="#000">LY294002</text>
<path d="M403.20 368.80H405.60" stroke="#111" stroke-width="1.15" fill="none"/>
<path d="M429.10 368.80H431.50" stroke="#111" stroke-width="1.15" fill="none"/>
<path d="M453.70 368.80H457.30M455.50 367.00V370.60" stroke="#111" stroke-width="1.15" fill="none"/>
<path d="M480.10 368.80H482.50" stroke="#111" stroke-width="1.15" fill="none"/>
<path d="M505.50 368.80H507.90" stroke="#111" stroke-width="1.15" fill="none"/>
<text x="355" y="381.3" font-size="7.8" font-weight="normal" text-anchor="start" fill="#000">PD98059</text>
<path d="M403.20 379.30H405.60" stroke="#111" stroke-width="1.15" fill="none"/>
<path d="M429.10 379.30H431.50" stroke="#111" stroke-width="1.15" fill="none"/>
<path d="M454.30 379.30H456.70" stroke="#111" stroke-width="1.15" fill="none"/>
<path d="M479.50 379.30H483.10M481.30 377.50V381.10" stroke="#111" stroke-width="1.15" fill="none"/>
<path d="M505.50 379.30H507.90" stroke="#111" stroke-width="1.15" fill="none"/>
<text x="355" y="391.8" font-size="7.8" font-weight="normal" text-anchor="start" fill="#000">SB203580</text>
<path d="M403.20 389.80H405.60" stroke="#111" stroke-width="1.15" fill="none"/>
<path d="M429.10 389.80H431.50" stroke="#111" stroke-width="1.15" fill="none"/>
<path d="M454.30 389.80H456.70" stroke="#111" stroke-width="1.15" fill="none"/>
<path d="M480.10 389.80H482.50" stroke="#111" stroke-width="1.15" fill="none"/>
<path d="M504.90 389.80H508.50M506.70 388.00V391.60" stroke="#111" stroke-width="1.15" fill="none"/>
<text x="352.0" y="295.8" font-size="8.5" font-weight="bold" text-anchor="middle" fill="#000" transform="rotate(-90 352.0 295.8)">Relative gene expression</text>
<text x="361.9" y="297.2" font-size="8.8" font-weight="bold" text-anchor="middle" fill="#000" transform="rotate(-90 361.9 297.2)">of MMP-9</text>
<text x="0.1" y="411.2" font-size="12" font-weight="bold" text-anchor="start" fill="#000">F</text>
<text x="16.3" y="464.4" font-size="8.4" font-weight="normal" text-anchor="start" fill="#000" stroke="#000" stroke-width="0.35">Me6</text>
<text x="59.4" y="464.4" font-size="8.4" font-weight="normal" text-anchor="middle" fill="#000" stroke="#000" stroke-width="0.35">0</text>
<text x="92.8" y="464.4" font-size="8.4" font-weight="normal" text-anchor="middle" fill="#000" stroke="#000" stroke-width="0.35">12</text>
<text x="130.8" y="464.4" font-size="8.4" font-weight="normal" text-anchor="middle" fill="#000" stroke="#000" stroke-width="0.35">24</text>
<text x="168.5" y="464.4" font-size="8.4" font-weight="normal" text-anchor="middle" fill="#000" stroke="#000" stroke-width="0.35">48</text>
<text x="200.4" y="464.4" font-size="8.4" font-weight="normal" text-anchor="start" fill="#000" stroke="#000" stroke-width="0.35">(h)</text>
<clipPath id="c332"><rect x="37" y="468.5" width="156.8" height="24.30000000000001"/></clipPath>
<g clip-path="url(#c332)">
<rect x="37.00" y="468.50" width="156.80" height="24.30" fill="#bebebe"/>
<rect x="43.00" y="480.80" width="29.40" height="2.60" rx="3.67" ry="1.30" fill="#333" fill-opacity="0.65" filter="url(#bl1)"/>
<rect x="80.30" y="479.20" width="29.40" height="3.60" rx="4.50" ry="1.80" fill="#1a1a1a" fill-opacity="0.85" filter="url(#bl1)"/>
<rect x="99.00" y="479.20" width="10.00" height="3.00" rx="3.75" ry="1.50" fill="#111" fill-opacity="0.4" filter="url(#bl1)"/>
<rect x="115.60" y="478.90" width="30.40" height="4.20" rx="5.25" ry="2.10" fill="#111" fill-opacity="0.95" filter="url(#bl1)"/>
<rect x="154.20" y="479.20" width="31.00" height="3.60" rx="4.50" ry="1.80" fill="#1a1a1a" fill-opacity="0.8" filter="url(#bl1)"/>
</g>
<rect x="37.90" y="469.40" width="155.00" height="22.50" fill="none" stroke="#000" stroke-width="1.8"/>
<clipPath id="c342"><rect x="37" y="498.1" width="156.8" height="24.399999999999977"/></clipPath>
<g clip-path="url(#c342)">
<rect x="37.00" y="498.10" width="156.80" height="24.40" fill="#b8b8b8"/>
<rect x="44.70" y="508.40" width="147.20" height="6.00" rx="18.40" ry="3.00" fill="#262626" fill-opacity="1" filter="url(#bl1)"/>
<rect x="46.50" y="508.00" width="35.00" height="3.20" rx="4.38" ry="1.60" fill="#262626" fill-opacity="1" filter="url(#bl1)"/>
<rect x="84.80" y="508.00" width="35.00" height="3.20" rx="4.38" ry="1.60" fill="#262626" fill-opacity="1" filter="url(#bl1)"/>
<rect x="122.10" y="508.00" width="33.00" height="3.20" rx="4.12" ry="1.60" fill="#262626" fill-opacity="1" filter="url(#bl1)"/>
<rect x="158.10" y="508.00" width="33.00" height="3.20" rx="4.12" ry="1.60" fill="#262626" fill-opacity="1" filter="url(#bl1)"/>
</g>
<rect x="37.90" y="499.00" width="155.00" height="22.60" fill="none" stroke="#000" stroke-width="1.8"/>
<text x="201" y="484.6" font-size="8.4" font-weight="normal" text-anchor="start" fill="#000" stroke="#000" stroke-width="0.35">MMP-9</text>
<text x="201" y="513" font-size="8.4" font-weight="normal" text-anchor="start" fill="#000" stroke="#000" stroke-width="0.35">ß-Actin</text>
<text x="238.0" y="411.3" font-size="12" font-weight="bold" text-anchor="start" fill="#000">G</text>
<text x="242.5" y="426.5" font-size="8.4" font-weight="normal" text-anchor="start" fill="#000" stroke="#000" stroke-width="0.35">Me6</text>
<text x="242.5" y="439.4" font-size="8.4" font-weight="normal" text-anchor="start" fill="#000" stroke="#000" stroke-width="0.35">LY294002</text>
<text x="242.5" y="452.9" font-size="8.4" font-weight="normal" text-anchor="start" fill="#000" stroke="#000" stroke-width="0.35">PD98059</text>
<text x="242.5" y="465.8" font-size="8.4" font-weight="normal" text-anchor="start" fill="#000" stroke="#000" stroke-width="0.35">SB203580</text>
<path d="M310.80 422.40H313.20" stroke="#111" stroke-width="1.1" fill="none"/>
<path d="M337.90 422.40H341.50M339.70 420.60V424.20" stroke="#111" stroke-width="1.1" fill="none"/>
<path d="M364.40 422.40H368.00M366.20 420.60V424.20" stroke="#111" stroke-width="1.1" fill="none"/>
<path d="M394.50 422.40H398.10M396.30 420.60V424.20" stroke="#111" stroke-width="1.1" fill="none"/>
<path d="M422.80 422.40H426.40M424.60 420.60V424.20" stroke="#111" stroke-width="1.1" fill="none"/>
<path d="M310.80 436.10H313.20" stroke="#111" stroke-width="1.1" fill="none"/>
<path d="M338.50 436.10H340.90" stroke="#111" stroke-width="1.1" fill="none"/>
<path d="M364.40 436.10H368.00M366.20 434.30V437.90" stroke="#111" stroke-width="1.1" fill="none"/>
<path d="M395.10 436.10H397.50" stroke="#111" stroke-width="1.1" fill="none"/>
<path d="M423.40 436.10H425.80" stroke="#111" stroke-width="1.1" fill="none"/>
<path d="M310.80 451.20H313.20" stroke="#111" stroke-width="1.1" fill="none"/>
<path d="M338.50 451.20H340.90" stroke="#111" stroke-width="1.1" fill="none"/>
<path d="M365.00 451.20H367.40" stroke="#111" stroke-width="1.1" fill="none"/>
<path d="M394.50 451.20H398.10M396.30 449.40V453.00" stroke="#111" stroke-width="1.1" fill="none"/>
<path d="M423.40 451.20H425.80" stroke="#111" stroke-width="1.1" fill="none"/>
<path d="M310.80 462.60H313.20" stroke="#111" stroke-width="1.1" fill="none"/>
<path d="M338.50 462.60H340.90" stroke="#111" stroke-width="1.1" fill="none"/>
<path d="M365.00 462.60H367.40" stroke="#111" stroke-width="1.1" fill="none"/>
<path d="M395.10 462.60H397.50" stroke="#111" stroke-width="1.1" fill="none"/>
<path d="M422.80 462.60H426.40M424.60 460.80V464.40" stroke="#111" stroke-width="1.1" fill="none"/>
<clipPath id="c379"><rect x="294.8" y="470.8" width="151.2" height="22.5"/></clipPath>
<g clip-path="url(#c379)">
<rect x="294.80" y="470.80" width="151.20" height="22.50" fill="#c0c0c0"/>
<rect x="304.00" y="485.90" width="18.00" height="2.80" rx="3.50" ry="1.40" fill="#222" fill-opacity="0.55" filter="url(#bl1)"/>
<rect x="332.00" y="485.20" width="19.00" height="3.80" rx="4.75" ry="1.90" fill="#111" fill-opacity="1" filter="url(#bl1)"/>
<rect x="357.70" y="485.90" width="20.00" height="2.80" rx="3.50" ry="1.40" fill="#222" fill-opacity="0.6" filter="url(#bl1)"/>
<rect x="385.40" y="485.90" width="21.60" height="2.80" rx="3.50" ry="1.40" fill="#222" fill-opacity="0.7" filter="url(#bl1)"/>
<rect x="413.00" y="485.90" width="20.00" height="2.80" rx="3.50" ry="1.40" fill="#222" fill-opacity="0.6" filter="url(#bl1)"/>
<rect x="337.00" y="477.50" width="8.00" height="3.00" rx="3.75" ry="1.50" fill="#555" fill-opacity="0.3" filter="url(#bl2)"/>
</g>
<rect x="295.65" y="471.65" width="149.50" height="20.80" fill="none" stroke="#000" stroke-width="1.7"/>
<clipPath id="c390"><rect x="294.8" y="498.5" width="151.2" height="23.200000000000045"/></clipPath>
<g clip-path="url(#c390)">
<rect x="294.80" y="498.50" width="151.20" height="23.20" fill="#bababa"/>
<rect x="300.00" y="509.90" width="34.00" height="7.00" rx="8.75" ry="3.50" fill="#080808" fill-opacity="1" filter="url(#bl1)"/>
<rect x="332.00" y="509.90" width="27.00" height="7.00" rx="8.75" ry="3.50" fill="#080808" fill-opacity="1" filter="url(#bl1)"/>
<rect x="356.00" y="509.90" width="29.00" height="7.00" rx="8.75" ry="3.50" fill="#080808" fill-opacity="1" filter="url(#bl1)"/>
<rect x="383.00" y="509.90" width="30.00" height="7.00" rx="8.75" ry="3.50" fill="#080808" fill-opacity="1" filter="url(#bl1)"/>
<rect x="410.00" y="509.90" width="31.50" height="7.00" rx="8.75" ry="3.50" fill="#080808" fill-opacity="1" filter="url(#bl1)"/>
<rect x="303.00" y="502.30" width="24.00" height="2.40" rx="3.00" ry="1.20" fill="#666" fill-opacity="0.3" filter="url(#bl2)"/>
<rect x="330.00" y="502.30" width="24.00" height="2.40" rx="3.00" ry="1.20" fill="#666" fill-opacity="0.3" filter="url(#bl2)"/>
</g>
<rect x="295.65" y="499.35" width="149.50" height="21.50" fill="none" stroke="#000" stroke-width="1.7"/>
<text x="458" y="491.3" font-size="8.4" font-weight="normal" text-anchor="start" fill="#000" stroke="#000" stroke-width="0.35">MMP-9</text>
<text x="458" y="517.2" font-size="8.4" font-weight="normal" text-anchor="start" fill="#000" stroke="#000" stroke-width="0.35">ß-Actin</text>
<text x="0.0" y="550.8" font-size="12" font-weight="bold" text-anchor="start" fill="#000">H</text>
<line x1="37.70" y1="550.20" x2="37.70" y2="684.00" stroke="#111" stroke-width="1.2"/>
<line x1="34.70" y1="683.40" x2="221.30" y2="683.40" stroke="#111" stroke-width="1.2"/>
<line x1="34.70" y1="683.40" x2="37.70" y2="683.40" stroke="#111" stroke-width="1.2"/>
<text x="33.2" y="685.4399999999999" font-size="6.8" font-weight="bold" text-anchor="end" fill="#000">0</text>
<line x1="34.70" y1="650.13" x2="37.70" y2="650.13" stroke="#111" stroke-width="1.2"/>
<text x="33.2" y="652.17" font-size="6.8" font-weight="bold" text-anchor="end" fill="#000">300</text>
<line x1="34.70" y1="616.86" x2="37.70" y2="616.86" stroke="#111" stroke-width="1.2"/>
<text x="33.2" y="618.9" font-size="6.8" font-weight="bold" text-anchor="end" fill="#000">600</text>
<line x1="34.70" y1="583.59" x2="37.70" y2="583.59" stroke="#111" stroke-width="1.2"/>
<text x="33.2" y="585.6299999999999" font-size="6.8" font-weight="bold" text-anchor="end" fill="#000">900</text>
<line x1="34.70" y1="550.32" x2="37.70" y2="550.32" stroke="#111" stroke-width="1.2"/>
<text x="33.2" y="552.3599999999999" font-size="6.8" font-weight="bold" text-anchor="end" fill="#000">1200</text>
<line x1="35.90" y1="666.76" x2="37.70" y2="666.76" stroke="#111" stroke-width="0.96"/>
<line x1="35.90" y1="633.50" x2="37.70" y2="633.50" stroke="#111" stroke-width="0.96"/>
<line x1="35.90" y1="600.22" x2="37.70" y2="600.22" stroke="#111" stroke-width="0.96"/>
<line x1="35.90" y1="566.95" x2="37.70" y2="566.95" stroke="#111" stroke-width="0.96"/>
<line x1="52.45" y1="661.89" x2="52.45" y2="663.44" stroke="#000" stroke-width="1.1"/>
<line x1="50.45" y1="661.89" x2="54.45" y2="661.89" stroke="#000" stroke-width="1.4"/>
<rect x="47.90" y="662.44" width="9.10" height="20.96" fill="#000"/>
<line x1="79.75" y1="576.94" x2="79.75" y2="585.03" stroke="#000" stroke-width="1.1"/>
<line x1="77.75" y1="576.94" x2="81.75" y2="576.94" stroke="#000" stroke-width="1.4"/>
<rect x="75.20" y="584.03" width="9.10" height="99.37" fill="#000"/>
<line x1="107.25" y1="649.35" x2="107.25" y2="652.90" stroke="#000" stroke-width="1.1"/>
<line x1="105.25" y1="649.35" x2="109.25" y2="649.35" stroke="#000" stroke-width="1.4"/>
<rect x="102.70" y="651.90" width="9.10" height="31.50" fill="#000"/>
<line x1="134.55" y1="646.80" x2="134.55" y2="653.13" stroke="#000" stroke-width="1.1"/>
<line x1="132.55" y1="646.80" x2="136.55" y2="646.80" stroke="#000" stroke-width="1.4"/>
<rect x="130.00" y="652.13" width="9.10" height="31.27" fill="#000"/>
<line x1="161.85" y1="638.04" x2="161.85" y2="641.04" stroke="#000" stroke-width="1.1"/>
<line x1="159.85" y1="638.04" x2="163.85" y2="638.04" stroke="#000" stroke-width="1.4"/>
<rect x="157.30" y="640.04" width="9.10" height="43.36" fill="#000"/>
<line x1="188.95" y1="665.43" x2="188.95" y2="667.21" stroke="#000" stroke-width="1.1"/>
<line x1="186.95" y1="665.43" x2="190.95" y2="665.43" stroke="#000" stroke-width="1.4"/>
<rect x="184.40" y="666.21" width="9.10" height="17.19" fill="#000"/>
<text x="77.14" y="574.19" font-size="9" font-weight="bold" text-anchor="start" fill="#000">*</text>
<text x="81.44" y="574.19" font-size="9" font-weight="bold" text-anchor="start" fill="#000">*</text>
<text x="107" y="646.48" font-size="7.2" font-weight="bold" text-anchor="middle" fill="#000" font-style="italic">##</text>
<text x="135" y="641.28" font-size="7.2" font-weight="bold" text-anchor="middle" fill="#000" font-style="italic">##</text>
<text x="162.3" y="634.28" font-size="7.2" font-weight="bold" text-anchor="middle" fill="#000" font-style="italic">##</text>
<text x="189.3" y="663.88" font-size="7.2" font-weight="bold" text-anchor="middle" fill="#000" font-style="italic">##</text>
<text x="53.2" y="694" font-size="7.6" font-weight="bold" text-anchor="middle" fill="#000">Con</text>
<text x="80.5" y="694" font-size="7.6" font-weight="bold" text-anchor="middle" fill="#000">Me6</text>
<text x="108.4" y="694" font-size="7.6" font-weight="bold" text-anchor="middle" fill="#000">L+M</text>
<text x="134.5" y="694" font-size="7.6" font-weight="bold" text-anchor="middle" fill="#000">P+M</text>
<text x="160.9" y="694" font-size="7.6" font-weight="bold" text-anchor="middle" fill="#000">S+M</text>
<text x="172.5" y="694" font-size="7.65" font-weight="bold" text-anchor="start" fill="#000">MMP9 Ab+M</text>
<text x="12.5" y="622" font-size="8.9" font-weight="bold" text-anchor="middle" fill="#000" transform="rotate(-90 12.5 622)">Total CFU/0.5 ml PB</text>
<rect x="262.20" y="542.80" width="2.90" height="7.70" fill="#000"/>
<line x1="295.00" y1="545.30" x2="295.00" y2="684.15" stroke="#000" stroke-width="1.3"/>
<line x1="292.00" y1="683.50" x2="502.50" y2="683.50" stroke="#000" stroke-width="1.3"/>
<line x1="292.00" y1="683.50" x2="295.00" y2="683.50" stroke="#000" stroke-width="1.3"/>
<text x="290.5" y="685.9" font-size="8.0" font-weight="bold" text-anchor="end" fill="#000">0</text>
<line x1="292.00" y1="648.95" x2="295.00" y2="648.95" stroke="#000" stroke-width="1.3"/>
<text x="290.5" y="651.35" font-size="8.0" font-weight="bold" text-anchor="end" fill="#000">200</text>
<line x1="292.00" y1="614.40" x2="295.00" y2="614.40" stroke="#000" stroke-width="1.3"/>
<text x="290.5" y="616.8" font-size="8.0" font-weight="bold" text-anchor="end" fill="#000">400</text>
<line x1="292.00" y1="579.85" x2="295.00" y2="579.85" stroke="#000" stroke-width="1.3"/>
<text x="290.5" y="582.25" font-size="8.0" font-weight="bold" text-anchor="end" fill="#000">600</text>
<line x1="292.00" y1="545.30" x2="295.00" y2="545.30" stroke="#000" stroke-width="1.3"/>
<text x="290.5" y="547.6999999999999" font-size="8.0" font-weight="bold" text-anchor="end" fill="#000">800</text>
<line x1="293.20" y1="666.23" x2="295.00" y2="666.23" stroke="#000" stroke-width="1.04"/>
<line x1="293.20" y1="631.67" x2="295.00" y2="631.67" stroke="#000" stroke-width="1.04"/>
<line x1="293.20" y1="597.12" x2="295.00" y2="597.12" stroke="#000" stroke-width="1.04"/>
<line x1="293.20" y1="562.58" x2="295.00" y2="562.58" stroke="#000" stroke-width="1.04"/>
<line x1="305.32" y1="653.27" x2="305.32" y2="655.48" stroke="#000" stroke-width="0.9"/>
<line x1="303.57" y1="653.27" x2="307.07" y2="653.27" stroke="#000" stroke-width="0.9"/>
<rect x="302.45" y="654.93" width="5.75" height="28.57" fill="#fff" stroke="#000" stroke-width="0.9"/>
<rect x="308.80" y="681.70" width="5.75" height="1.80" fill="#b0b0b0" stroke="#000" stroke-width="0.9"/>
<rect x="315.15" y="682.91" width="5.75" height="0.59" fill="#626262" stroke="#000" stroke-width="0.9"/>
<line x1="336.02" y1="567.41" x2="336.02" y2="575.32" stroke="#000" stroke-width="0.9"/>
<line x1="334.27" y1="567.41" x2="337.77" y2="567.41" stroke="#000" stroke-width="0.9"/>
<rect x="333.15" y="574.77" width="5.75" height="108.73" fill="#fff" stroke="#000" stroke-width="0.9"/>
<line x1="342.38" y1="655.51" x2="342.38" y2="660.32" stroke="#000" stroke-width="0.9"/>
<line x1="340.62" y1="655.51" x2="344.12" y2="655.51" stroke="#000" stroke-width="0.9"/>
<rect x="339.50" y="659.77" width="5.75" height="23.73" fill="#b0b0b0" stroke="#000" stroke-width="0.9"/>
<line x1="348.72" y1="661.22" x2="348.72" y2="664.29" stroke="#000" stroke-width="0.9"/>
<line x1="346.97" y1="661.22" x2="350.47" y2="661.22" stroke="#000" stroke-width="0.9"/>
<rect x="345.85" y="663.74" width="5.75" height="19.76" fill="#626262" stroke="#000" stroke-width="0.9"/>
<line x1="367.12" y1="650.33" x2="367.12" y2="652.37" stroke="#000" stroke-width="0.9"/>
<line x1="365.38" y1="650.33" x2="368.88" y2="650.33" stroke="#000" stroke-width="0.9"/>
<rect x="364.25" y="651.82" width="5.75" height="31.68" fill="#fff" stroke="#000" stroke-width="0.9"/>
<line x1="373.48" y1="667.09" x2="373.48" y2="671.72" stroke="#000" stroke-width="0.9"/>
<line x1="371.73" y1="667.09" x2="375.23" y2="667.09" stroke="#000" stroke-width="0.9"/>
<rect x="370.60" y="671.17" width="5.75" height="12.33" fill="#b0b0b0" stroke="#000" stroke-width="0.9"/>
<line x1="379.82" y1="678.32" x2="379.82" y2="679.84" stroke="#000" stroke-width="0.9"/>
<line x1="378.07" y1="678.32" x2="381.57" y2="678.32" stroke="#000" stroke-width="0.9"/>
<rect x="376.95" y="679.29" width="5.75" height="4.21" fill="#626262" stroke="#000" stroke-width="0.9"/>
<line x1="398.32" y1="649.47" x2="398.32" y2="659.80" stroke="#000" stroke-width="0.9"/>
<line x1="396.57" y1="649.47" x2="400.07" y2="649.47" stroke="#000" stroke-width="0.9"/>
<rect x="395.45" y="659.25" width="5.75" height="24.25" fill="#fff" stroke="#000" stroke-width="0.9"/>
<line x1="404.68" y1="666.23" x2="404.68" y2="669.30" stroke="#000" stroke-width="0.9"/>
<line x1="402.93" y1="666.23" x2="406.43" y2="666.23" stroke="#000" stroke-width="0.9"/>
<rect x="401.80" y="668.75" width="5.75" height="14.75" fill="#b0b0b0" stroke="#000" stroke-width="0.9"/>
<line x1="411.02" y1="674.86" x2="411.02" y2="676.55" stroke="#000" stroke-width="0.9"/>
<line x1="409.27" y1="674.86" x2="412.77" y2="674.86" stroke="#000" stroke-width="0.9"/>
<rect x="408.15" y="676.00" width="5.75" height="7.50" fill="#626262" stroke="#000" stroke-width="0.9"/>
<line x1="429.52" y1="633.75" x2="429.52" y2="637.34" stroke="#000" stroke-width="0.9"/>
<line x1="427.77" y1="633.75" x2="431.27" y2="633.75" stroke="#000" stroke-width="0.9"/>
<rect x="426.65" y="636.79" width="5.75" height="46.71" fill="#fff" stroke="#000" stroke-width="0.9"/>
<line x1="435.88" y1="668.30" x2="435.88" y2="669.82" stroke="#000" stroke-width="0.9"/>
<line x1="434.12" y1="668.30" x2="437.62" y2="668.30" stroke="#000" stroke-width="0.9"/>
<rect x="433.00" y="669.27" width="5.75" height="14.23" fill="#b0b0b0" stroke="#000" stroke-width="0.9"/>
<line x1="442.22" y1="675.04" x2="442.22" y2="678.45" stroke="#000" stroke-width="0.9"/>
<line x1="440.47" y1="675.04" x2="443.97" y2="675.04" stroke="#000" stroke-width="0.9"/>
<rect x="439.35" y="677.90" width="5.75" height="5.60" fill="#626262" stroke="#000" stroke-width="0.9"/>
<line x1="460.82" y1="665.02" x2="460.82" y2="666.71" stroke="#000" stroke-width="0.9"/>
<line x1="459.07" y1="665.02" x2="462.57" y2="665.02" stroke="#000" stroke-width="0.9"/>
<rect x="457.95" y="666.16" width="5.75" height="17.34" fill="#fff" stroke="#000" stroke-width="0.9"/>
<line x1="467.18" y1="679.18" x2="467.18" y2="680.53" stroke="#000" stroke-width="0.9"/>
<line x1="465.43" y1="679.18" x2="468.93" y2="679.18" stroke="#000" stroke-width="0.9"/>
<rect x="464.30" y="679.98" width="5.75" height="3.52" fill="#b0b0b0" stroke="#000" stroke-width="0.9"/>
<line x1="473.52" y1="678.14" x2="473.52" y2="679.84" stroke="#000" stroke-width="0.9"/>
<line x1="471.77" y1="678.14" x2="475.27" y2="678.14" stroke="#000" stroke-width="0.9"/>
<rect x="470.65" y="679.29" width="5.75" height="4.21" fill="#626262" stroke="#000" stroke-width="0.9"/>
<text x="333.54" y="564.59" font-size="9" font-weight="bold" text-anchor="start" fill="#000">*</text>
<text x="337.84" y="564.59" font-size="9" font-weight="bold" text-anchor="start" fill="#000">*</text>
<text x="340.14" y="652.89" font-size="9" font-weight="bold" text-anchor="start" fill="#000">*</text>
<text x="344.44" y="652.89" font-size="9" font-weight="bold" text-anchor="start" fill="#000">*</text>
<text x="345.74" y="660.59" font-size="9" font-weight="bold" text-anchor="start" fill="#000">*</text>
<text x="350.04" y="660.59" font-size="9" font-weight="bold" text-anchor="start" fill="#000">*</text>
<text x="368.3" y="646.47" font-size="6.3" font-weight="bold" text-anchor="middle" fill="#000" font-style="italic">##</text>
<text x="374.2" y="663.47" font-size="6.3" font-weight="bold" text-anchor="middle" fill="#000" font-style="italic">#</text>
<text x="380.5" y="675.67" font-size="6.3" font-weight="bold" text-anchor="middle" fill="#000" font-style="italic">##</text>
<text x="399.2" y="645.97" font-size="6.3" font-weight="bold" text-anchor="middle" fill="#000" font-style="italic">##</text>
<text x="405.3" y="663.17" font-size="6.3" font-weight="bold" text-anchor="middle" fill="#000" font-style="italic">#</text>
<text x="411.5" y="671.77" font-size="6.3" font-weight="bold" text-anchor="middle" fill="#000" font-style="italic">##</text>
<text x="430.3" y="630.37" font-size="6.3" font-weight="bold" text-anchor="middle" fill="#000" font-style="italic">##</text>
<text x="436.2" y="663.17" font-size="6.3" font-weight="bold" text-anchor="middle" fill="#000" font-style="italic">#</text>
<text x="442.3" y="671.77" font-size="6.3" font-weight="bold" text-anchor="middle" fill="#000" font-style="italic">##</text>
<text x="461.3" y="661.77" font-size="6.3" font-weight="bold" text-anchor="middle" fill="#000" font-style="italic">##</text>
<text x="467.2" y="673.17" font-size="6.3" font-weight="bold" text-anchor="middle" fill="#000" font-style="italic">##</text>
<text x="473.4" y="676.17" font-size="6.3" font-weight="bold" text-anchor="middle" fill="#000" font-style="italic">##</text>
<text x="312.2" y="693.5" font-size="8.1" font-weight="bold" text-anchor="middle" fill="#000">Con</text>
<text x="342.5" y="693.5" font-size="8.1" font-weight="bold" text-anchor="middle" fill="#000">Me6</text>
<text x="373.1" y="693.5" font-size="8.1" font-weight="bold" text-anchor="middle" fill="#000">L+M</text>
<text x="404.3" y="693.5" font-size="8.1" font-weight="bold" text-anchor="middle" fill="#000">P+M</text>
<text x="435.4" y="693.5" font-size="8.1" font-weight="bold" text-anchor="middle" fill="#000">S+M</text>
<text x="448.6" y="693.5" font-size="8.25" font-weight="bold" text-anchor="start" fill="#000">MMP9 Ab+M</text>
<text x="270.5" y="616.2" font-size="9.5" font-weight="bold" text-anchor="middle" fill="#000" transform="rotate(-90 270.5 616.2)">CFU/0.5 ml PB</text>
<rect x="432.80" y="545.30" width="55.40" height="31.80" fill="#fff" stroke="#bbb" stroke-width="0.8"/>
<rect x="434.40" y="547.30" width="18.20" height="6.60" fill="#fff" stroke="#000" stroke-width="1"/>
<text x="455.8" y="554.0" font-size="8.3" font-weight="bold" text-anchor="start" fill="#000">G/GM/M</text>
<rect x="434.40" y="557.70" width="18.20" height="6.60" fill="#b4b4b4" stroke="#000" stroke-width="1"/>
<text x="455.8" y="564.4000000000001" font-size="8.3" font-weight="bold" text-anchor="start" fill="#000">GEMM</text>
<rect x="434.40" y="567.70" width="18.20" height="6.60" fill="#6e6e6e" stroke="#000" stroke-width="1"/>
<text x="455.8" y="574.4000000000001" font-size="8.3" font-weight="bold" text-anchor="start" fill="#000">BFU-E</text>
<text x="0.7" y="723.4" font-size="12" font-weight="bold" text-anchor="start" fill="#000">J</text>
<text x="66.7" y="719.4" font-size="8.6" font-weight="normal" text-anchor="middle" fill="#000" stroke="#000" stroke-width="0.35">BM cells</text>
<line x1="34.00" y1="722.90" x2="103.30" y2="722.90" stroke="#000" stroke-width="1.5"/>
<text x="46.2" y="737.3" font-size="8.6" font-weight="normal" text-anchor="middle" fill="#000" stroke="#000" stroke-width="0.35">Con</text>
<text x="80" y="737.3" font-size="8.6" font-weight="normal" text-anchor="middle" fill="#000" stroke="#000" stroke-width="0.35">Me6</text>
<clipPath id="c556"><rect x="28.8" y="741" width="80.2" height="21.700000000000045"/></clipPath>
<g clip-path="url(#c556)">
<rect x="28.80" y="741.00" width="80.20" height="21.70" fill="#c6c6c6"/>
<rect x="33.50" y="749.20" width="13.00" height="4.00" rx="5.00" ry="2.00" fill="#333" fill-opacity="0.5" filter="url(#bl2)"/>
<rect x="44.00" y="749.80" width="8.00" height="3.20" rx="4.00" ry="1.60" fill="#444" fill-opacity="0.25" filter="url(#bl2)"/>
<rect x="58.50" y="749.20" width="6.00" height="3.20" rx="3.00" ry="1.60" fill="#444" fill-opacity="0.35" filter="url(#bl2)"/>
<rect x="75.50" y="748.30" width="29.00" height="3.80" rx="4.75" ry="1.90" fill="#222" fill-opacity="0.65" filter="url(#bl2)"/>
<rect x="75.00" y="747.80" width="12.00" height="4.00" rx="5.00" ry="2.00" fill="#111" fill-opacity="0.6" filter="url(#bl2)"/>
</g>
<rect x="29.65" y="741.85" width="78.50" height="20.00" fill="none" stroke="#000" stroke-width="1.7"/>
<clipPath id="c566"><rect x="28.8" y="767" width="80.2" height="22"/></clipPath>
<g clip-path="url(#c566)">
<rect x="28.80" y="767.00" width="80.20" height="22.00" fill="#bcbcbc"/>
<rect x="31.90" y="777.20" width="34.60" height="3.80" rx="4.75" ry="1.90" fill="#111" fill-opacity="1" filter="url(#bl1)"/>
<rect x="70.90" y="777.20" width="34.60" height="3.80" rx="4.75" ry="1.90" fill="#111" fill-opacity="1" filter="url(#bl1)"/>
</g>
<rect x="29.65" y="767.85" width="78.50" height="20.30" fill="none" stroke="#000" stroke-width="1.7"/>
<text x="115.4" y="755.5" font-size="8.8" font-weight="normal" text-anchor="start" fill="#000" stroke="#000" stroke-width="0.35">MMP-9</text>
<text x="115.4" y="780.6" font-size="8.8" font-weight="normal" text-anchor="start" fill="#000" stroke="#000" stroke-width="0.35">ß-Actin</text>
<text x="66.9" y="831.3" font-size="10.4" font-weight="normal" text-anchor="middle" fill="#000" stroke="#000" stroke-width="0.35">BM fluids</text>
<line x1="30.00" y1="836.20" x2="108.70" y2="836.20" stroke="#000" stroke-width="1.5"/>
<text x="48.7" y="848" font-size="8.6" font-weight="normal" text-anchor="middle" fill="#000" stroke="#000" stroke-width="0.35">Con</text>
<text x="83.7" y="848" font-size="8.6" font-weight="normal" text-anchor="middle" fill="#000" stroke="#000" stroke-width="0.35">Me6</text>
<clipPath id="c579"><rect x="28" y="850" width="79.5" height="23.700000000000045"/></clipPath>
<g clip-path="url(#c579)">
<rect x="28.00" y="850.00" width="79.50" height="23.70" fill="#c8c8c8"/>
<rect x="34.00" y="861.20" width="32.00" height="2.60" rx="4.00" ry="1.30" fill="#444" fill-opacity="0.4" filter="url(#bl1)"/>
<rect x="74.00" y="860.90" width="28.00" height="3.20" rx="4.00" ry="1.60" fill="#333" fill-opacity="0.6" filter="url(#bl1)"/>
<rect x="95.50" y="860.60" width="11.00" height="3.80" rx="4.75" ry="1.90" fill="#111" fill-opacity="0.85" filter="url(#bl1)"/>
</g>
<rect x="28.85" y="850.85" width="77.80" height="22.00" fill="none" stroke="#000" stroke-width="1.7"/>
<text x="116.2" y="866.3" font-size="8.8" font-weight="normal" text-anchor="start" fill="#000" stroke="#000" stroke-width="0.35">MMP-9</text>
<text x="197.2" y="723.4" font-size="12" font-weight="bold" text-anchor="start" fill="#000">K</text>
<line x1="240.80" y1="736.80" x2="240.80" y2="872.90" stroke="#111" stroke-width="1.2"/>
<line x1="237.80" y1="872.30" x2="318.50" y2="872.30" stroke="#111" stroke-width="1.2"/>
<line x1="237.80" y1="872.30" x2="240.80" y2="872.30" stroke="#111" stroke-width="1.2"/>
<text x="236.3" y="874.37" font-size="6.9" font-weight="bold" text-anchor="end" fill="#000">0.0</text>
<line x1="237.80" y1="838.40" x2="240.80" y2="838.40" stroke="#111" stroke-width="1.2"/>
<text x="236.3" y="840.47" font-size="6.9" font-weight="bold" text-anchor="end" fill="#000">0.7</text>
<line x1="237.80" y1="804.50" x2="240.80" y2="804.50" stroke="#111" stroke-width="1.2"/>
<text x="236.3" y="806.57" font-size="6.9" font-weight="bold" text-anchor="end" fill="#000">1.4</text>
<line x1="237.80" y1="770.60" x2="240.80" y2="770.60" stroke="#111" stroke-width="1.2"/>
<text x="236.3" y="772.67" font-size="6.9" font-weight="bold" text-anchor="end" fill="#000">2.1</text>
<line x1="237.80" y1="736.70" x2="240.80" y2="736.70" stroke="#111" stroke-width="1.2"/>
<text x="236.3" y="738.77" font-size="6.9" font-weight="bold" text-anchor="end" fill="#000">2.8</text>
<line x1="239.00" y1="855.35" x2="240.80" y2="855.35" stroke="#111" stroke-width="0.96"/>
<line x1="239.00" y1="821.45" x2="240.80" y2="821.45" stroke="#111" stroke-width="0.96"/>
<line x1="239.00" y1="787.55" x2="240.80" y2="787.55" stroke="#111" stroke-width="0.96"/>
<line x1="239.00" y1="753.65" x2="240.80" y2="753.65" stroke="#111" stroke-width="0.96"/>
<line x1="260.35" y1="753.17" x2="260.35" y2="763.85" stroke="#000" stroke-width="1.2"/>
<line x1="258.35" y1="753.17" x2="262.35" y2="753.17" stroke="#000" stroke-width="1.4"/>
<rect x="254.10" y="762.85" width="12.50" height="109.45" fill="#000"/>
<line x1="298.75" y1="812.25" x2="298.75" y2="816.64" stroke="#000" stroke-width="1.2"/>
<line x1="296.75" y1="812.25" x2="300.75" y2="812.25" stroke="#000" stroke-width="1.4"/>
<rect x="292.50" y="815.64" width="12.50" height="56.66" fill="#000"/>
<text x="296.04" y="808.99" font-size="9" font-weight="bold" text-anchor="start" fill="#000">*</text>
<text x="300.34" y="808.99" font-size="9" font-weight="bold" text-anchor="start" fill="#000">*</text>
<text x="260.5" y="882.3" font-size="7.6" font-weight="bold" text-anchor="middle" fill="#000">Con</text>
<text x="298.7" y="882.3" font-size="7.6" font-weight="bold" text-anchor="middle" fill="#000">Me6</text>
<text x="207.0" y="811.0" font-size="8.87" font-weight="bold" text-anchor="middle" fill="#000" transform="rotate(-90 207.0 811.0)">Concentration of SDF-1&#945;</text>
<text x="218.1" y="809.3" font-size="8.25" font-weight="bold" text-anchor="middle" fill="#000" transform="rotate(-90 218.1 809.3)">(ng/ml)</text>
<text x="337.0" y="723.4" font-size="12" font-weight="bold" text-anchor="start" fill="#000">L</text>
<line x1="368.80" y1="740.90" x2="368.80" y2="872.55" stroke="#000" stroke-width="1.3"/>
<line x1="365.80" y1="871.90" x2="520.00" y2="871.90" stroke="#000" stroke-width="1.3"/>
<line x1="365.80" y1="871.90" x2="368.80" y2="871.90" stroke="#000" stroke-width="1.3"/>
<text x="364.3" y="874.2099999999999" font-size="7.7" font-weight="bold" text-anchor="end" fill="#000">0</text>
<line x1="365.80" y1="839.15" x2="368.80" y2="839.15" stroke="#000" stroke-width="1.3"/>
<text x="364.3" y="841.4599999999999" font-size="7.7" font-weight="bold" text-anchor="end" fill="#000">5</text>
<line x1="365.80" y1="806.40" x2="368.80" y2="806.40" stroke="#000" stroke-width="1.3"/>
<text x="364.3" y="808.7099999999999" font-size="7.7" font-weight="bold" text-anchor="end" fill="#000">10</text>
<line x1="365.80" y1="773.65" x2="368.80" y2="773.65" stroke="#000" stroke-width="1.3"/>
<text x="364.3" y="775.9599999999999" font-size="7.7" font-weight="bold" text-anchor="end" fill="#000">15</text>
<line x1="365.80" y1="740.90" x2="368.80" y2="740.90" stroke="#000" stroke-width="1.3"/>
<text x="364.3" y="743.2099999999999" font-size="7.7" font-weight="bold" text-anchor="end" fill="#000">20</text>
<line x1="367.00" y1="855.52" x2="368.80" y2="855.52" stroke="#000" stroke-width="1.04"/>
<line x1="367.00" y1="822.77" x2="368.80" y2="822.77" stroke="#000" stroke-width="1.04"/>
<line x1="367.00" y1="790.02" x2="368.80" y2="790.02" stroke="#000" stroke-width="1.04"/>
<line x1="367.00" y1="757.27" x2="368.80" y2="757.27" stroke="#000" stroke-width="1.04"/>
<line x1="398.45" y1="821.40" x2="398.45" y2="828.82" stroke="#000" stroke-width="1.3"/>
<line x1="396.70" y1="821.40" x2="400.20" y2="821.40" stroke="#000" stroke-width="1.3"/>
<rect x="391.30" y="828.32" width="14.30" height="43.58" fill="#fff" stroke="#000" stroke-width="1"/>
<line x1="413.65" y1="809.87" x2="413.65" y2="820.70" stroke="#000" stroke-width="1.3"/>
<line x1="411.90" y1="809.87" x2="415.40" y2="809.87" stroke="#000" stroke-width="1.3"/>
<rect x="406.50" y="820.20" width="14.30" height="51.70" fill="#b4b4b4" stroke="#000" stroke-width="1"/>
<line x1="474.10" y1="750.07" x2="474.10" y2="774.00" stroke="#000" stroke-width="1.3"/>
<line x1="472.35" y1="750.07" x2="475.85" y2="750.07" stroke="#000" stroke-width="1.3"/>
<rect x="466.70" y="773.50" width="14.80" height="98.40" fill="#fff" stroke="#000" stroke-width="1"/>
<line x1="489.65" y1="808.50" x2="489.65" y2="811.99" stroke="#000" stroke-width="1.3"/>
<line x1="487.90" y1="808.50" x2="491.40" y2="808.50" stroke="#000" stroke-width="1.3"/>
<rect x="482.50" y="811.49" width="14.30" height="60.41" fill="#b4b4b4" stroke="#000" stroke-width="1"/>
<text x="472.69" y="747.09" font-size="9" font-weight="bold" text-anchor="start" fill="#000">*</text>
<text x="407" y="882.5" font-size="7.6" font-weight="bold" text-anchor="middle" fill="#000">Con</text>
<text x="481.3" y="882.5" font-size="7.6" font-weight="bold" text-anchor="middle" fill="#000">Me6</text>
<rect x="377.50" y="739.60" width="56.30" height="25.00" fill="#fff" stroke="#bbb" stroke-width="0.8"/>
<rect x="379.40" y="743.50" width="17.90" height="7.70" fill="#fff" stroke="#000" stroke-width="1.1"/>
<text x="399.6" y="750.4" font-size="7.9" font-weight="bold" text-anchor="start" fill="#000">MMP-9<tspan font-size="3.8" dy="-4">+/+</tspan></text>
<rect x="379.40" y="755.00" width="17.90" height="7.70" fill="#b4b4b4" stroke="#000" stroke-width="1.1"/>
<text x="399.6" y="761.9" font-size="7.9" font-weight="bold" text-anchor="start" fill="#000">MMP-9<tspan font-size="3.8" dy="-4">-/-</tspan></text>
<text x="352.2" y="805.4" font-size="9.0" font-weight="bold" text-anchor="middle" fill="#000" transform="rotate(-90 352.2 805.4)">WBCs/ml × 10<tspan font-size="5.2" dy="-3.6">6</tspan></text>
<text x="1.8" y="911.0" font-size="12" font-weight="bold" text-anchor="start" fill="#000">M</text>
<line x1="28.80" y1="922.70" x2="28.80" y2="1052.35" stroke="#000" stroke-width="1.3"/>
<line x1="25.80" y1="1051.70" x2="179.50" y2="1051.70" stroke="#000" stroke-width="1.3"/>
<line x1="25.80" y1="1051.70" x2="28.80" y2="1051.70" stroke="#000" stroke-width="1.3"/>
<text x="24.3" y="1054.1000000000001" font-size="8.0" font-weight="bold" text-anchor="end" fill="#000">0.0</text>
<line x1="25.80" y1="1008.70" x2="28.80" y2="1008.70" stroke="#000" stroke-width="1.3"/>
<text x="24.3" y="1011.1" font-size="8.0" font-weight="bold" text-anchor="end" fill="#000">0.2</text>
<line x1="25.80" y1="965.70" x2="28.80" y2="965.70" stroke="#000" stroke-width="1.3"/>
<text x="24.3" y="968.1" font-size="8.0" font-weight="bold" text-anchor="end" fill="#000">0.4</text>
<line x1="25.80" y1="922.70" x2="28.80" y2="922.70" stroke="#000" stroke-width="1.3"/>
<text x="24.3" y="925.1" font-size="8.0" font-weight="bold" text-anchor="end" fill="#000">0.6</text>
<line x1="27.00" y1="1030.20" x2="28.80" y2="1030.20" stroke="#000" stroke-width="1.04"/>
<line x1="27.00" y1="987.20" x2="28.80" y2="987.20" stroke="#000" stroke-width="1.04"/>
<line x1="27.00" y1="944.20" x2="28.80" y2="944.20" stroke="#000" stroke-width="1.04"/>
<line x1="59.00" y1="988.49" x2="59.00" y2="998.39" stroke="#000" stroke-width="1.3"/>
<line x1="57.25" y1="988.49" x2="60.75" y2="988.49" stroke="#000" stroke-width="1.3"/>
<rect x="51.70" y="997.89" width="14.60" height="53.81" fill="#fff" stroke="#000" stroke-width="1"/>
<line x1="74.60" y1="964.20" x2="74.60" y2="980.03" stroke="#000" stroke-width="1.3"/>
<line x1="72.85" y1="964.20" x2="76.35" y2="964.20" stroke="#000" stroke-width="1.3"/>
<rect x="67.30" y="979.53" width="14.60" height="72.17" fill="#b4b4b4" stroke="#000" stroke-width="1"/>
<line x1="135.60" y1="931.95" x2="135.60" y2="949.50" stroke="#000" stroke-width="1.3"/>
<line x1="133.85" y1="931.95" x2="137.35" y2="931.95" stroke="#000" stroke-width="1.3"/>
<rect x="128.50" y="949.00" width="14.20" height="102.70" fill="#fff" stroke="#000" stroke-width="1"/>
<line x1="150.75" y1="969.79" x2="150.75" y2="988.63" stroke="#000" stroke-width="1.3"/>
<line x1="149.00" y1="969.79" x2="152.50" y2="969.79" stroke="#000" stroke-width="1.3"/>
<rect x="143.50" y="988.13" width="14.50" height="63.57" fill="#b4b4b4" stroke="#000" stroke-width="1"/>
<text x="134.1" y="931.3" font-size="10" font-weight="bold" text-anchor="start" fill="#000">*</text>
<text x="67.2" y="1060.2" font-size="7.8" font-weight="bold" text-anchor="middle" fill="#000">Con</text>
<text x="143.3" y="1060.2" font-size="7.8" font-weight="bold" text-anchor="middle" fill="#000">Me6</text>
<rect x="39.40" y="921.70" width="54.80" height="24.50" fill="#fff" stroke="#bbb" stroke-width="0.8"/>
<rect x="41.30" y="925.60" width="17.40" height="7.20" fill="#fff" stroke="#000" stroke-width="1.1"/>
<text x="61.2" y="932.2" font-size="7.7" font-weight="bold" text-anchor="start" fill="#000">MMP-9<tspan font-size="3.8" dy="-4">+/+</tspan></text>
<rect x="41.30" y="936.20" width="17.40" height="7.20" fill="#b4b4b4" stroke="#000" stroke-width="1.1"/>
<text x="61.2" y="942.8000000000001" font-size="7.7" font-weight="bold" text-anchor="start" fill="#000">MMP-9<tspan font-size="3.8" dy="-4">-/-</tspan></text>
<text x="7.6" y="990.2" font-size="8.9" font-weight="bold" text-anchor="middle" fill="#000" transform="rotate(-90 7.6 990.2)">Lin<tspan font-size="5" dy="-3">-</tspan><tspan dy="3">Sca-1</tspan><tspan font-size="5" dy="-3">+</tspan><tspan dy="3"> (%)</tspan></text>
<text x="197.3" y="911.0" font-size="11.8" font-weight="bold" text-anchor="start" fill="#000">N</text>
<line x1="240.60" y1="918.80" x2="240.60" y2="1051.40" stroke="#222" stroke-width="1.2"/>
<line x1="237.60" y1="1050.80" x2="316.50" y2="1050.80" stroke="#222" stroke-width="1.2"/>
<line x1="237.60" y1="1050.80" x2="240.60" y2="1050.80" stroke="#222" stroke-width="1.2"/>
<text x="236.1" y="1053.1" font-size="6.8" font-weight="bold" text-anchor="end" fill="#000">0</text>
<line x1="237.60" y1="1017.80" x2="240.60" y2="1017.80" stroke="#222" stroke-width="1.2"/>
<text x="236.1" y="1020.0999999999999" font-size="6.8" font-weight="bold" text-anchor="end" fill="#000">7</text>
<line x1="237.60" y1="984.80" x2="240.60" y2="984.80" stroke="#222" stroke-width="1.2"/>
<text x="236.1" y="987.0999999999999" font-size="6.8" font-weight="bold" text-anchor="end" fill="#000">14</text>
<line x1="237.60" y1="951.80" x2="240.60" y2="951.80" stroke="#222" stroke-width="1.2"/>
<text x="236.1" y="954.0999999999999" font-size="6.8" font-weight="bold" text-anchor="end" fill="#000">21</text>
<line x1="237.60" y1="918.80" x2="240.60" y2="918.80" stroke="#222" stroke-width="1.2"/>
<text x="236.1" y="921.0999999999999" font-size="6.8" font-weight="bold" text-anchor="end" fill="#000">28</text>
<line x1="238.80" y1="1034.30" x2="240.60" y2="1034.30" stroke="#222" stroke-width="0.96"/>
<line x1="238.80" y1="1001.30" x2="240.60" y2="1001.30" stroke="#222" stroke-width="0.96"/>
<line x1="238.80" y1="968.30" x2="240.60" y2="968.30" stroke="#222" stroke-width="0.96"/>
<line x1="238.80" y1="935.30" x2="240.60" y2="935.30" stroke="#222" stroke-width="0.96"/>
<line x1="278.90" y1="1050.80" x2="278.90" y2="1053.30" stroke="#222" stroke-width="1.2"/>
<line x1="259.65" y1="978.91" x2="259.65" y2="1002.44" stroke="#000" stroke-width="1.1"/>
<line x1="257.85" y1="978.91" x2="261.45" y2="978.91" stroke="#000" stroke-width="1.4"/>
<rect x="253.60" y="1001.44" width="12.10" height="49.36" fill="#000"/>
<line x1="297.60" y1="940.01" x2="297.60" y2="961.95" stroke="#000" stroke-width="1.1"/>
<line x1="295.80" y1="940.01" x2="299.40" y2="940.01" stroke="#000" stroke-width="1.4"/>
<rect x="291.50" y="960.95" width="12.20" height="89.85" fill="#000"/>
<text x="295.89" y="937.19" font-size="9" font-weight="bold" text-anchor="start" fill="#000">*</text>
<text x="259.6" y="1060.7" font-size="7.3" font-weight="bold" text-anchor="middle" fill="#000">Con</text>
<text x="297.3" y="1060.7" font-size="7.3" font-weight="bold" text-anchor="middle" fill="#000">Me6</text>
<text x="220.0" y="986" font-size="8.5" font-weight="bold" text-anchor="middle" fill="#000" transform="rotate(-90 220.0 986)">WBCs/ml x 10<tspan font-size="4.8" dy="-3.4">6</tspan></text>
<text x="336.8" y="911.2" font-size="11.8" font-weight="bold" text-anchor="start" fill="#000">O</text>
<line x1="370.50" y1="906.90" x2="370.50" y2="1051.40" stroke="#222" stroke-width="1.2"/>
<line x1="367.50" y1="1050.80" x2="452.50" y2="1050.80" stroke="#222" stroke-width="1.2"/>
<line x1="367.50" y1="1050.80" x2="370.50" y2="1050.80" stroke="#222" stroke-width="1.2"/>
<text x="366.0" y="1053.1" font-size="7.7" font-weight="bold" text-anchor="end" fill="#000">0.0</text>
<line x1="367.50" y1="1021.94" x2="370.50" y2="1021.94" stroke="#222" stroke-width="1.2"/>
<text x="366.0" y="1024.24" font-size="7.7" font-weight="bold" text-anchor="end" fill="#000">0.2</text>
<line x1="367.50" y1="993.08" x2="370.50" y2="993.08" stroke="#222" stroke-width="1.2"/>
<text x="366.0" y="995.3799999999999" font-size="7.7" font-weight="bold" text-anchor="end" fill="#000">0.4</text>
<line x1="367.50" y1="964.22" x2="370.50" y2="964.22" stroke="#222" stroke-width="1.2"/>
<text x="366.0" y="966.5199999999999" font-size="7.7" font-weight="bold" text-anchor="end" fill="#000">0.6</text>
<line x1="367.50" y1="935.36" x2="370.50" y2="935.36" stroke="#222" stroke-width="1.2"/>
<text x="366.0" y="937.6599999999999" font-size="7.7" font-weight="bold" text-anchor="end" fill="#000">0.8</text>
<line x1="367.50" y1="906.50" x2="370.50" y2="906.50" stroke="#222" stroke-width="1.2"/>
<text x="366.0" y="908.8" font-size="7.7" font-weight="bold" text-anchor="end" fill="#000">1.0</text>
<line x1="368.70" y1="1036.37" x2="370.50" y2="1036.37" stroke="#222" stroke-width="0.96"/>
<line x1="368.70" y1="1007.51" x2="370.50" y2="1007.51" stroke="#222" stroke-width="0.96"/>
<line x1="368.70" y1="978.65" x2="370.50" y2="978.65" stroke="#222" stroke-width="0.96"/>
<line x1="368.70" y1="949.79" x2="370.50" y2="949.79" stroke="#222" stroke-width="0.96"/>
<line x1="368.70" y1="920.93" x2="370.50" y2="920.93" stroke="#222" stroke-width="0.96"/>
<line x1="411.60" y1="1050.80" x2="411.60" y2="1053.30" stroke="#222" stroke-width="1.2"/>
<line x1="391.25" y1="1007.51" x2="391.25" y2="1017.17" stroke="#000" stroke-width="1.1"/>
<line x1="389.45" y1="1007.51" x2="393.05" y2="1007.51" stroke="#000" stroke-width="1.4"/>
<rect x="384.60" y="1016.17" width="13.30" height="34.63" fill="#000"/>
<line x1="432.20" y1="944.31" x2="432.20" y2="973.01" stroke="#000" stroke-width="1.1"/>
<line x1="430.40" y1="944.31" x2="434.00" y2="944.31" stroke="#000" stroke-width="1.4"/>
<rect x="425.70" y="972.01" width="13.00" height="78.79" fill="#000"/>
<text x="430.99" y="939.59" font-size="9" font-weight="bold" text-anchor="start" fill="#000">*</text>
<text x="391.3" y="1061.6" font-size="7.9" font-weight="bold" text-anchor="middle" fill="#000">Con</text>
<text x="432.1" y="1061.6" font-size="7.9" font-weight="bold" text-anchor="middle" fill="#000">Me6</text>
<text x="347.6" y="982.2" font-size="8.9" font-weight="bold" text-anchor="middle" fill="#000" transform="rotate(-90 347.6 982.2)">Lin<tspan font-size="5" dy="-3">-</tspan><tspan dy="3">Sca-1</tspan><tspan font-size="5" dy="-3">+</tspan><tspan dy="3"> (%)</tspan></text>
</svg></body></html>
